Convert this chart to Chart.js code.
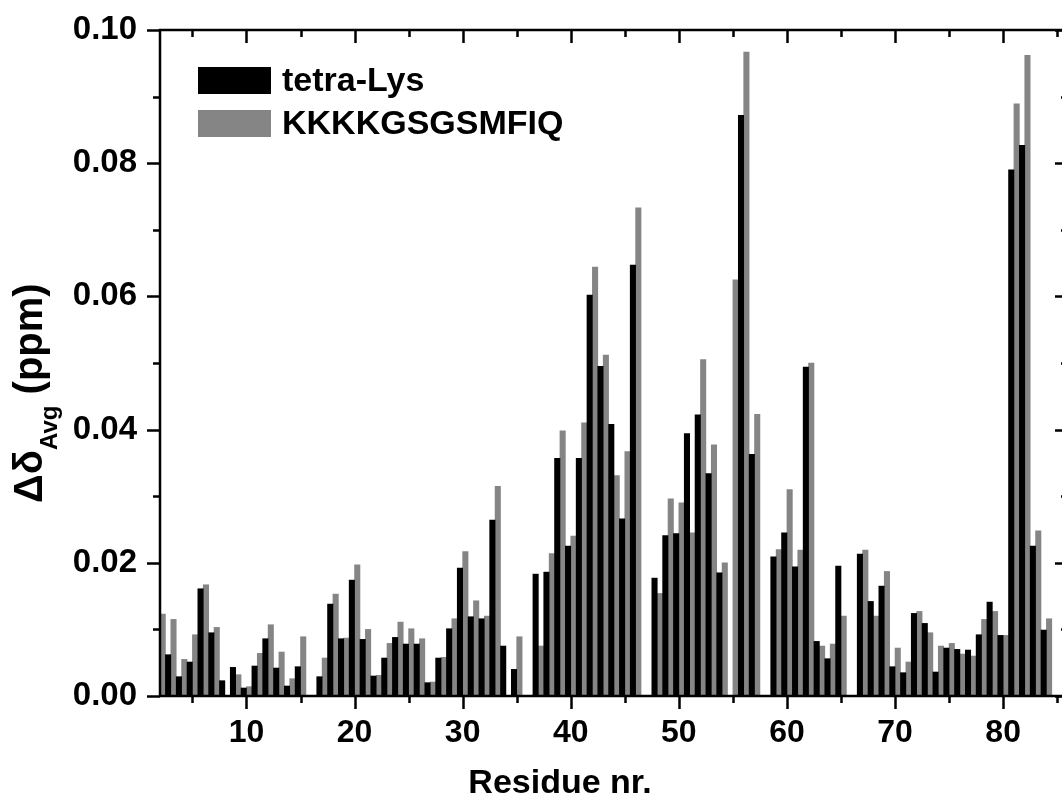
<!DOCTYPE html>
<html>
<head>
<meta charset="utf-8">
<script src="https://cdn.jsdelivr.net/npm/chart.js@4.4.1/dist/chart.umd.min.js"></script>
<style>
  html, body { margin: 0; padding: 0; background: #fff; overflow: hidden; }
  #wrap { width: 1080px; height: 808px; position: relative; }
</style>
</head>
<body>
<div id="wrap"><canvas id="barChart"></canvas></div>
<script>
// Residue numbers on the x axis (one category per residue)
const residues = [2, 3, 4, 5, 6, 7, 8, 9, 10, 11, 12, 13, 14, 15, 16, 17, 18, 19, 20,
  21, 22, 23, 24, 25, 26, 27, 28, 29, 30, 31, 32, 33, 34, 35, 36, 37, 38, 39, 40,
  41, 42, 43, 44, 45, 46, 47, 48, 49, 50, 51, 52, 53, 54, 55, 56, 57, 58, 59, 60,
  61, 62, 63, 64, 65, 66, 67, 68, 69, 70, 71, 72, 73, 74, 75, 76, 77, 78, 79, 80,
  81, 82, 83, 84, 85, 86];

// tetra-Lys (black)
const tetraLys = [null, 0.0062, 0.0029, 0.0051, 0.0161, 0.0095, 0.0023, 0.0043, 0.0012,
  0.0045, 0.0086, 0.0042, 0.0015, 0.0044, null, 0.0029, 0.0138, 0.0086, 0.0174,
  0.0085, 0.0030, 0.0057, 0.0088, 0.0078, 0.0078, 0.0020, 0.0057, 0.0101, 0.0192,
  0.0119, 0.0116, 0.0264, 0.0075, 0.0040, null, 0.0183, 0.0186, 0.0357, 0.0225,
  0.0357, 0.0602, 0.0495, 0.0408, 0.0266, 0.0647, null, 0.0177, 0.0241, 0.0244,
  0.0394, 0.0422, 0.0334, 0.0185, null, 0.0872, 0.0363, null, 0.0209, 0.0245,
  0.0194, 0.0494, 0.0082, 0.0056, 0.0195, null, 0.0213, 0.0142, 0.0165, 0.0044,
  0.0035, 0.0124, 0.0109, 0.0036, 0.0072, 0.0070, 0.0069, 0.0092, 0.0141, 0.0091,
  0.0790, 0.0827, 0.0225, 0.0099, null, null];

// KKKKGSGSMFIQ (grey)
const kkkkPeptide = [0.0123, 0.0115, 0.0055, 0.0092, 0.0167, 0.0103, null, 0.0032, 0.0014,
  0.0064, 0.0107, 0.0066, 0.0026, 0.0089, null, 0.0057, 0.0153, 0.0087, 0.0197,
  0.0100, 0.0031, 0.0079, 0.0111, 0.0101, 0.0086, 0.0021, 0.0058, 0.0116, 0.0217,
  0.0143, 0.0120, 0.0315, null, 0.0089, null, 0.0075, 0.0214, 0.0398, 0.0240,
  0.0410, 0.0644, 0.0512, 0.0331, 0.0367, 0.0733, null, 0.0154, 0.0296, 0.0290,
  0.0245, 0.0505, 0.0377, 0.0200, 0.0625, 0.0967, 0.0423, null, 0.0220, 0.0310,
  0.0219, 0.0500, 0.0075, 0.0078, 0.0120, null, 0.0219, 0.0120, 0.0187, 0.0072,
  0.0051, 0.0127, 0.0095, 0.0075, 0.0079, 0.0063, 0.0060, 0.0115, 0.0127, 0.0091,
  0.0889, 0.0962, 0.0248, 0.0116, null, null];

// tick marks
const xMajorTicks = [10, 20, 30, 40, 50, 60, 70, 80];
const xMinorTicks = [5, 15, 25, 35, 45, 55, 65, 75, 85];
const yMajorTicks = [0, 0.02, 0.04, 0.06, 0.08, 0.10];
const yMinorTicks = [0.01, 0.03, 0.05, 0.07, 0.09];

const FONT = "'Liberation Sans', Arial, Helvetica, sans-serif";
Chart.defaults.font.family = FONT;
Chart.defaults.color = '#000';

// draws the boxed frame with in/out ticks, legend and axis titles
const framePlugin = {
  id: 'frame',
  afterDraw(chart) {
    const { ctx, chartArea: a, scales: { x, y } } = chart;
    const xPix = r => x.getPixelForValue(residues.indexOf(r));
    ctx.save();
    ctx.strokeStyle = '#000';
    ctx.lineWidth = 2.5;
    ctx.strokeRect(a.left, a.top, a.right - a.left, a.bottom - a.top);

    ctx.beginPath();
    const xt = (list, len) => list.forEach(r => {
      const px = Math.round(xPix(r)) + 0.5;
      ctx.moveTo(px, a.bottom); ctx.lineTo(px, a.bottom + len);   // bottom: outward
      ctx.moveTo(px, a.top); ctx.lineTo(px, a.top + len);         // top: inward
    });
    xt(xMajorTicks, 13);
    xt(xMinorTicks, 7);
    const yt = (list, len) => list.forEach(v => {
      const py = Math.round(y.getPixelForValue(v)) + 0.5;
      ctx.moveTo(a.left, py); ctx.lineTo(a.left - len, py);       // left: outward
      ctx.moveTo(a.right, py); ctx.lineTo(a.right - len, py);     // right: inward
    });
    yt(yMajorTicks, 13);
    yt(yMinorTicks, 7);
    ctx.stroke();

    // legend
    const lx = a.left + 38, ly = a.top + 37;
    chart.data.datasets.forEach((ds, i) => {
      const top = ly + i * 43;
      ctx.fillStyle = ds.backgroundColor;
      ctx.fillRect(lx, top, 73, 27);
      ctx.fillStyle = '#000';
      ctx.font = 'bold 34px ' + FONT;
      ctx.textBaseline = 'middle';
      ctx.textAlign = 'left';
      ctx.fillText(ds.label, lx + 84, top + 15);
    });

    // x title
    ctx.font = 'bold 34px ' + FONT;
    ctx.textAlign = 'center';
    ctx.textBaseline = 'alphabetic';
    ctx.fillText('Residue nr.', 560, 793);

    // y title: Δδ_Avg (ppm), rotated, reading bottom to top
    ctx.translate(42, 503);
    ctx.rotate(-Math.PI / 2);
    const big = 'bold 40px ' + FONT, small = 'bold 24px ' + FONT;
    ctx.textAlign = 'left';
    let sx = 0;
    ctx.font = big; ctx.fillText('\u0394\u03b4', sx, 0); sx += ctx.measureText('\u0394\u03b4').width;
    ctx.font = small; ctx.fillText('Avg', sx, 15); sx += ctx.measureText('Avg').width;
    ctx.font = big; ctx.fillText(' (ppm)', sx, 0);
    ctx.restore();
  }
};

new Chart(document.getElementById('barChart').getContext('2d'), {
  type: 'bar',
  data: {
    labels: residues,
    datasets: [
      { label: 'tetra-Lys', data: tetraLys, backgroundColor: '#000000', clip: 0 },
      { label: 'KKKKGSGSMFIQ', data: kkkkPeptide, backgroundColor: '#858585', clip: 0 }
    ]
  },
  options: {
    responsive: true,
    maintainAspectRatio: false,
    animation: false,
    devicePixelRatio: 1,
    categoryPercentage: 1.0,
    barPercentage: 1.0,
    layout: { padding: { top: 30, right: 12, left: 0, bottom: 0 } },
    plugins: { legend: { display: false }, tooltip: { enabled: false } },
    scales: {
      x: {
        offset: false,
        grid: { display: false, drawTicks: false },
        border: { display: false },
        ticks: {
          autoSkip: false, maxRotation: 0, minRotation: 0, padding: 18,
          font: { size: 32, weight: 'bold' },
          callback: (v, i) => (xMajorTicks.includes(residues[i]) ? String(residues[i]) : '')
        },
        afterFit: s => { s.height = 112; s.paddingLeft = 0; s.paddingRight = 0; }
      },
      y: {
        min: 0, max: 0.10,
        grid: { display: false, drawTicks: false },
        border: { display: false },
        ticks: {
          stepSize: 0.02, padding: 23,
          font: { size: 33, weight: 'bold' },
          callback: v => v.toFixed(2)
        },
        afterFit: s => { s.width = 160; s.paddingTop = 0; s.paddingBottom = 0; }
      }
    }
  },
  plugins: [framePlugin]
});
</script>
</body>
</html>
